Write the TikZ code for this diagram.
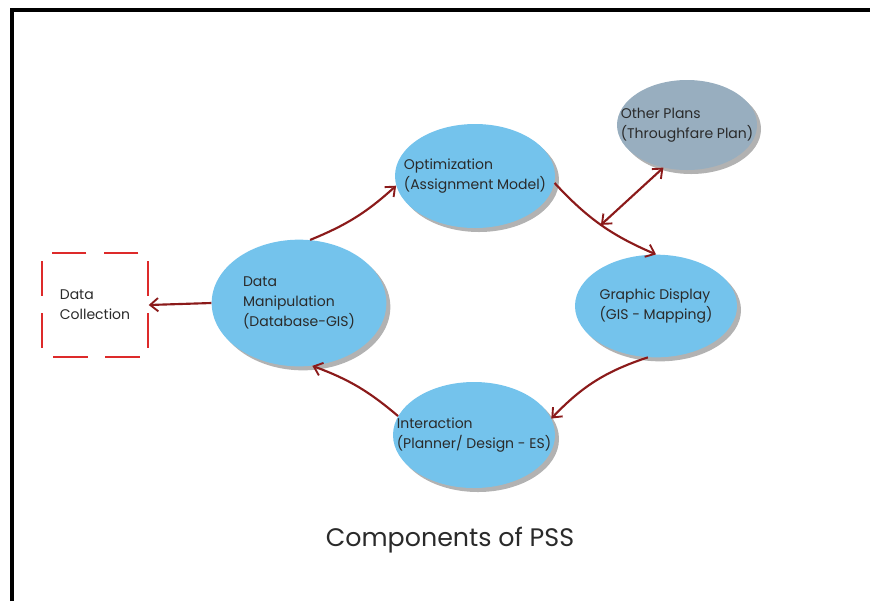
\documentclass[tikz,border=0pt]{standalone}
\usepackage{fontspec}
\setmainfont{Poppins}
\usepackage{xcolor}
\usetikzlibrary{shapes.geometric,arrows.meta,shadows}

\definecolor{blobblue}{HTML}{74C3EC}
\definecolor{plangray}{HTML}{98AEBF}
\definecolor{arrowred}{HTML}{8B1A1A}
\definecolor{boxred}{HTML}{DD2A2A}
\definecolor{txtgray}{HTML}{2A2A2A}

\tikzset{
  barb/.tip={Straight Barb[length=6pt,width=10pt,line width=1.4pt]},
  blob/.style={ellipse, fill=blobblue, inner sep=0pt,
    drop shadow={shadow xshift=3pt, shadow yshift=-3pt, fill=black!30, opacity=1}},
  lbl/.style={align=left, inner sep=0.75pt, text=txtgray, font=\fontsize{10.5}{15}\selectfont},
  flow/.style={draw=arrowred, line width=1.6pt, -barb},
  twoway/.style={draw=arrowred, line width=1.6pt, barb-barb},
  dcbox/.style={draw=boxred, line width=1.6pt, dash pattern=on 26pt off 13pt, dash phase=-8pt,
    align=left, text=txtgray, font=\fontsize{10.5}{15}\selectfont}
}

\begin{document}
\begin{tikzpicture}[x=0.75pt,y=0.75pt,yscale=-1,xscale=1]
\useasboundingbox (0,0) rectangle (870,601);
\draw[line width=2.4pt] (12,601) -- (12,10) -- (870,10);

% ellipses
\node[blob, minimum width=120pt, minimum height=78pt] (opt) at (475,176) {};
\node[blob, fill=plangray, minimum width=105pt, minimum height=67.5pt] (other) at (687,125) {};
\node[blob, minimum width=131pt, minimum height=95pt] (dman) at (299,303) {};
\node[blob, minimum width=121.5pt, minimum height=77pt] (gd) at (656,306) {};
\node[blob, minimum width=121.5pt, minimum height=79.5pt] (inter) at (474,435) {};
\node[dcbox, minimum width=79pt, minimum height=78pt] (dc) at (95,305) {Data\\Collection};

% labels
\node[lbl] (optlbl) at (opt) {Optimization\\(Assignment Model)};
\node[lbl] (otherlbl) at (other) {Other Plans\\(Throughfare Plan)};
\node[lbl] (dmanlbl) at (dman) {Data\\Manipulation\\(Database-GIS)};
\node[lbl] (gdlbl) at (gd) {Graphic Display\\(GIS - Mapping)};
\node[lbl] (interlbl) at (inter) {Interaction\\(Planner/ Design - ES)};

% connectors
\draw[flow] (dman.80) to[bend left=10] (opt.187);
\draw[flow] (opt.-5) to[bend left=12] coordinate[pos=0.5] (jn) (gd.north);
\draw[twoway] (jn) -- (other.241);
\draw[flow] (gd.261) to[bend left=14] (inter.12);
\draw[flow] (inter.166) to[bend left=10] (dman.282);
\draw[flow] (dman.west) -- (dc.east);

\node[font=\fontsize{19}{22}\selectfont, text=txtgray] (ttl) at (450,540) {Components of PSS};
\end{tikzpicture}
\end{document}
